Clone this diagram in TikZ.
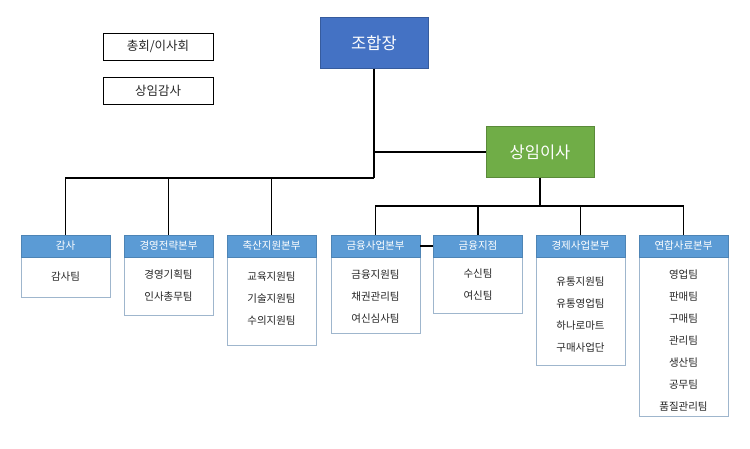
\documentclass[tikz,border=0pt]{standalone}
\usepackage{fontspec}
\setmainfont{Noto Sans CJK KR}
\definecolor{hblue}{HTML}{5B9BD5}
\definecolor{topblue}{HTML}{4472C4}
\definecolor{sgreen}{HTML}{70AD47}
\definecolor{bodyline}{HTML}{9FB6CD}
\definecolor{txt}{HTML}{262626}
\begin{document}
\begin{tikzpicture}[x=1pt,y=-1pt,
  big/.style={draw=#1!80!black,fill=#1,text=white,minimum width=108pt,minimum height=51pt,font=\fontsize{16.5}{18}\selectfont,inner sep=0pt},
  small/.style={draw=black,line width=0.6pt,minimum width=110pt,minimum height=27pt,font=\fontsize{12.5}{14}\selectfont,text=txt,inner sep=0pt},
  head/.style={fill=hblue,draw=hblue!85!black,text=white,minimum width=89pt,minimum height=22pt,font=\fontsize{10.5}{12}\selectfont,inner sep=0pt},
  body/.style={draw=bodyline,fill=white,line width=0.8pt},
  btxt/.style={align=center,text=txt,font=\fontsize{10.5}{22}\selectfont,inner sep=0pt},
  conn/.style={line width=1.1pt,black}]
\useasboundingbox (0,0) rectangle (750,448);
\node[small] (chonghoe) at (158,46.5) {총회/이사회};
\node[small] (gamsa0) at (158,91) {상임감사};
\node[big=topblue] (jhj) at (374,43) {조합장};
\node[big=sgreen] (sangim) at (540,152) {상임이사};
\newcommand\orgcol[5]{%
  \draw[body] (#2-44.5,257) rectangle (#2+44.5,#3);
  \node[btxt] (#1t) at (#2,{(257+#3)/2+#4}) {#5};
  \node[head] (#1) at (#2,246) {};}
\orgcol{c1}{65.5}{297}{0}{감사팀}
\node[head] at (c1) {감사};
\orgcol{c2}{168.5}{315}{0}{경영기획팀\\인사총무팀}
\node[head] at (c2) {경영전략본부};
\orgcol{c3}{271.5}{345}{-2}{교육지원팀\\기술지원팀\\수의지원팀}
\node[head] at (c3) {축산지원본부};
\orgcol{c4}{375.5}{333}{2}{금융지원팀\\채권관리팀\\여신심사팀}
\node[head] at (c4) {금융사업본부};
\orgcol{c5}{478}{313}{0}{수신팀\\여신팀}
\node[head] at (c5) {금융지점};
\orgcol{c6}{580.5}{365}{4}{유통지원팀\\유통영업팀\\하나로마트\\구매사업단}
\node[head] at (c6) {경제사업본부};
\orgcol{c7}{683.5}{416}{4}{영업팀\\판매팀\\구매팀\\관리팀\\생산팀\\공무팀\\품질관리팀}
\node[head] at (c7) {연합사료본부};
\coordinate (j2) at (374,178);
\draw[conn] (jhj.south) -- (j2);
\draw[conn] (jhj.south |- sangim.west) -- (sangim.west);
\draw[conn] (c1.north) |- (j2);
\draw[conn] (c2.north) -- (c2.north |- j2);
\draw[conn] (c3.north) -- (c3.north |- j2);
\coordinate (r) at (540,206);
\draw[conn] (sangim.south) -- (r);
\draw[conn] (c4.north) |- (c7.north |- r) -- (c7.north);
\draw[conn] (c5.north) -- (c5.north |- r);
\draw[conn] (c6.north) -- (c6.north |- r);
\draw[conn] (c4.east) -- (c5.west);
\end{tikzpicture}
\end{document}
